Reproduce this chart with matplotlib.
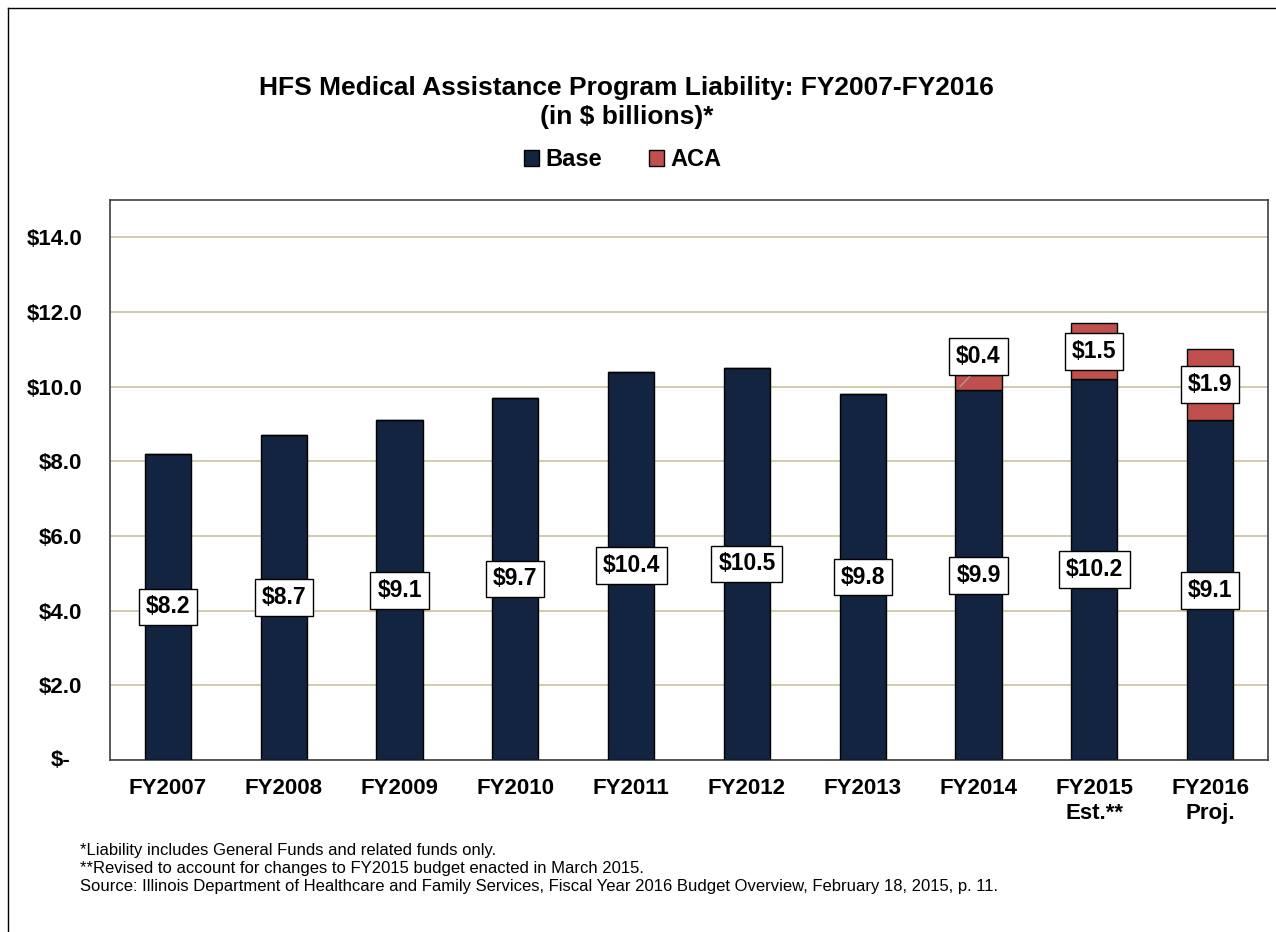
import matplotlib.pyplot as plt
from matplotlib.lines import Line2D
from matplotlib.patches import Patch

plt.rcParams['font.family'] = ['Liberation Sans', 'DejaVu Sans']

years = ['FY2007', 'FY2008', 'FY2009', 'FY2010', 'FY2011', 'FY2012',
         'FY2013', 'FY2014', 'FY2015\nEst.**', 'FY2016\nProj.']
base = [8.2, 8.7, 9.1, 9.7, 10.4, 10.5, 9.8, 9.9, 10.2, 9.1]
aca = [0, 0, 0, 0, 0, 0, 0, 0.4, 1.5, 1.9]
yticks = [0, 2, 4, 6, 8, 10, 12, 14]
ytick_labels = ['', '$2.0', '$4.0', '$6.0', '$8.0', '$10.0', '$12.0', '$14.0']

base_color = '#12243F'
aca_color = '#C0504D'

fig = plt.figure(figsize=(12.76, 9.32), dpi=100)
ax = fig.add_axes([110 / 1276, 1 - 760 / 932, 1158 / 1276, 560 / 932])

x = range(len(years))
ax.bar(x, base, width=0.4, color=base_color, edgecolor='black', linewidth=1, zorder=3)
ax.bar(x, aca, width=0.4, bottom=base, color=aca_color, edgecolor='black', linewidth=1, zorder=3)

ax.set_xlim(-0.5, len(years) - 0.5)
ax.set_ylim(0, 15)
ax.set_yticks(yticks)
ax.set_yticklabels(ytick_labels, fontsize=16, fontweight='bold')
ax.set_xticks(list(x))
ax.set_xticklabels(years, fontsize=16, fontweight='bold', linespacing=1.25)
ax.tick_params(length=0, pad=13)
ax.tick_params(axis='y', pad=20)
# accounting-style zero label
ax.text(-0.0345, 0, '$-', transform=ax.get_yaxis_transform(), ha='right', va='center',
        fontsize=16, fontweight='bold')
ax.yaxis.grid(True, color='#C9C29F', linewidth=1.2, zorder=0)
ax.set_axisbelow(True)
for s in ax.spines.values():
    s.set_color('#404040')
    s.set_linewidth(1.2)

box = dict(boxstyle='square,pad=0.3', facecolor='white', edgecolor='black', linewidth=1)
for i, v in enumerate(base):
    ax.text(i, v / 2, f'${v}', ha='center', va='center', fontsize=16.5,
            fontweight='bold', bbox=box, zorder=5)

# ACA labels
aca_y = {7: 10.8, 8: 10.95, 9: 10.05}
for i, y in aca_y.items():
    ax.text(i, y, f'${aca[i]}', ha='center', va='center', fontsize=16.5,
            fontweight='bold', bbox=box, zorder=5)
# leader line for FY2014
ax.plot([6.84, 6.95], [10.0, 10.36], color='#A0A0A0', linewidth=1, zorder=4)

fig.text(0.491, 1 - 88 / 932, 'HFS Medical Assistance Program Liability: FY2007-FY2016',
         ha='center', va='center', fontsize=19, fontweight='bold')
fig.text(0.491, 1 - 117 / 932, '(in $ billions)*', ha='center', va='center',
         fontsize=19, fontweight='bold')

handles = [Patch(facecolor=base_color, edgecolor='black'),
           Patch(facecolor=aca_color, edgecolor='black')]
fig.legend(handles, ['Base', 'ACA'], loc='center', bbox_to_anchor=(0.488, 1 - 160 / 932),
           ncol=2, frameon=False, prop={'size': 17, 'weight': 'bold'},
           handlelength=0.65, handleheight=0.65, handletextpad=0.25, columnspacing=2.0)

notes = ['*Liability includes General Funds and related funds only.',
         '**Revised to account for changes to FY2015 budget enacted in March 2015.',
         'Source: Illinois Department of Healthcare and Family Services, Fiscal Year 2016 '
         'Budget Overview, February 18, 2015, p. 11.']
for k, n in enumerate(notes):
    fig.text(80 / 1276, 1 - (850 + 18 * k) / 932, n, ha='left', va='center', fontsize=12)

# outer border
fig.add_artist(Line2D([8 / 1276, 8 / 1276], [0, 1 - 8 / 932], color='black', linewidth=1))
fig.add_artist(Line2D([8 / 1276, 1], [1 - 8 / 932, 1 - 8 / 932], color='black', linewidth=1))

fig.savefig('out.png', dpi=100)
